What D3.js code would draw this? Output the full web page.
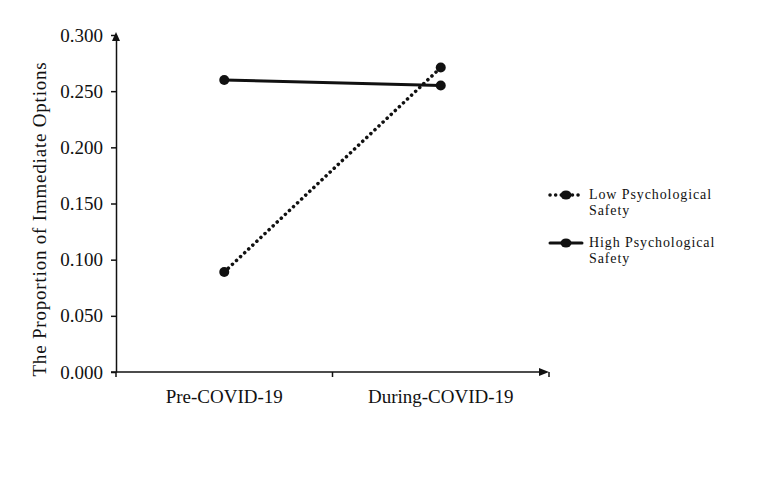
<!DOCTYPE html>
<html><head><meta charset="utf-8">
<script src="https://cdn.jsdelivr.net/npm/d3@7"></script>
<style>body{margin:0;background:#fff}svg{display:block}text{font-family:"Liberation Serif","Times New Roman",serif;fill:#111}</style>
</head><body><svg id="c" width="757" height="478"></svg>
<script>
const categories = ["Pre-COVID-19", "During-COVID-19"];
const lowSafety = [0.089, 0.271];
const highSafety = [0.260, 0.255];
const yTicks = [0, 0.05, 0.10, 0.15, 0.20, 0.25, 0.30];
const seriesNames = ["Low Psychological Safety", "High Psychological Safety"];

const svg = d3.select("#c");
const x0 = 116, x1 = 549, yTop = 35, yBot = 372;
const x = d3.scalePoint().domain(categories).range([x0, x1]).padding(0.5);
const y = d3.scaleLinear().domain([0, 0.3]).range([yBot, yTop]);

// Y axis
const ya = svg.append("g").attr("transform", `translate(${x0},0)`)
  .call(d3.axisLeft(y).tickValues(yTicks).tickFormat(d3.format(".3f")).tickSize(5).tickSizeOuter(0));
ya.select(".domain").attr("stroke", "#111").attr("stroke-width", 1.5);
ya.selectAll(".tick line").attr("stroke", "#111").attr("stroke-width", 1.5);
ya.selectAll(".tick text").attr("font-size", 19).attr("x", -13).attr("fill", "#111")
  .style("font-family", "Liberation Serif");
svg.append("path").attr("d", `M${x0},${yTop-3} l-4,9 l8,0 Z`).attr("fill", "#111");

// X axis
const xa = svg.append("g").attr("transform", `translate(0,${yBot})`);
xa.append("line").attr("x1", x0 - 5).attr("x2", x1 - 4).attr("stroke", "#111").attr("stroke-width", 1.5);
xa.append("path").attr("d", `M${x1},0 l-10,-4 l0,8 Z`).attr("fill", "#111");
xa.append("line").attr("x1", x1).attr("x2", x1).attr("y1", 0).attr("y2", 5).attr("stroke", "#111").attr("stroke-width", 1.5);
const mid = (x(categories[0]) + x(categories[1])) / 2;
xa.append("line").attr("x1", mid).attr("x2", mid).attr("y1", 0).attr("y2", 5).attr("stroke", "#111").attr("stroke-width", 1.5);
xa.append("line").attr("x1", x0).attr("x2", x0).attr("y1", 0).attr("y2", 5).attr("stroke", "#111").attr("stroke-width", 1.5);
categories.forEach(c => xa.append("text").attr("x", x(c)).attr("y", 31).attr("text-anchor", "middle").attr("font-size", 19).text(c));

// Y title
svg.append("text").attr("transform", `translate(46,219) rotate(-90)`)
  .attr("text-anchor", "middle").attr("font-size", 19).attr("letter-spacing", 0.8)
  .text("The Proportion of Immediate Options");

const line = d3.line().x((d, i) => x(categories[i])).y(d => y(d));
const series = [
  {name: seriesNames[0], vals: lowSafety, dash: "0.1 5.5", w: 3.5},
  {name: seriesNames[1], vals: highSafety, dash: null, w: 3}
];
series.forEach(s => {
  svg.append("path").datum(s.vals).attr("d", line).attr("fill", "none").attr("stroke", "#111")
    .attr("stroke-width", s.w).attr("stroke-linecap", "round").attr("stroke-dasharray", s.dash);
  svg.selectAll(null).data(s.vals).enter().append("circle")
    .attr("cx", (d, i) => x(categories[i])).attr("cy", d => y(d)).attr("r", 5).attr("fill", "#111");
});

// Legend
const legY = [195, 243];
series.forEach((s, k) => {
  const g = svg.append("g").attr("transform", `translate(548,${legY[k]})`);
  g.append("line").attr("x1", 2).attr("x2", 34).attr("stroke", "#111").attr("stroke-width", s.w)
    .attr("stroke-linecap", "round").attr("stroke-dasharray", s.dash);
  g.append("ellipse").attr("cx", 18).attr("cy", 0).attr("rx", 5.5).attr("ry", 4.5).attr("fill", "#111");
  const words = s.name.split(" ");
  g.append("text").attr("x", 41).attr("y", 4).attr("font-size", 14).attr("letter-spacing", 0.9).text(words[0] + " " + words[1]);
  g.append("text").attr("x", 41).attr("y", 20).attr("font-size", 14).attr("letter-spacing", 0.9).text(words[2]);
});
</script></body></html>
